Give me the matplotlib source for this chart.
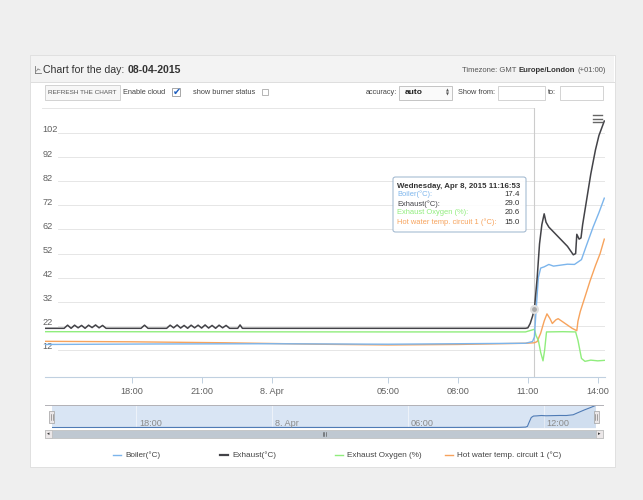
import matplotlib
matplotlib.use('Agg')
import matplotlib.pyplot as plt
from matplotlib.patches import Rectangle, FancyBboxPatch
from matplotlib.lines import Line2D
from matplotlib.transforms import blended_transform_factory

plt.rcParams['font.family'] = ['Liberation Sans', 'DejaVu Sans']

# hours since 8 Apr 2015 00:00
exhaust_t = [-9.72, -8.9, -8.75, -8.6, -8.45, -8.3, -8.15, -8.0, -7.85, -7.7, -7.55, -7.4, -7.25, -7.1,
             -5.6, -5.45, -5.3, -4.5, -4.35, -4.2, -4.05, -3.9, -3.75, -3.6, -3.45, -3.3, -3.15, -3.0,
             -2.85, -2.7, -2.55, -2.4, -2.25, -2.1, -1.95, -1.8, -1.45, -1.35, -1.25, 5.0, 10.9,
             11.0, 11.1, 11.2, 11.28, 11.4, 11.5, 11.6, 11.7, 11.78, 11.9, 12.1, 12.4, 12.7, 12.95,
             13.05, 13.1, 13.2, 13.28, 13.35, 13.5, 13.7, 13.9, 14.05, 14.28]
exhaust_v = [21.0, 21.0, 22.3, 21.0, 22.3, 21.2, 22.2, 21.0, 22.3, 21.3, 22.4, 21.2, 22.2, 21.0,
             21.0, 22.3, 21.0, 21.0, 22.3, 21.2, 22.4, 21.1, 22.2, 21.0, 22.3, 21.2, 22.3, 21.1,
             22.4, 21.1, 22.2, 21.0, 22.3, 21.2, 22.2, 21.0, 21.0, 22.4, 21.0, 21.0, 21.0,
             21.2, 23.0, 26.0, 29.0, 42.0, 56.0, 64.0, 68.5, 65.0, 63.0, 61.0, 58.0, 55.0, 51.5,
             52.0, 60.0, 58.0, 58.5, 64.0, 73.0, 85.0, 95.0, 101.0, 107.0]

boiler_t = [-9.72, -5.0, 0.0, 5.0, 10.9, 11.2, 11.28, 11.35, 11.45, 11.55, 11.7, 11.9, 12.1, 12.4,
            12.7, 13.0, 13.15, 13.3, 13.5, 13.8, 14.05, 14.28]
boiler_v = [14.3, 14.5, 14.6, 14.4, 14.8, 15.5, 17.4, 28.0, 42.0, 46.0, 46.5, 47.5, 46.8, 47.2,
            47.6, 47.5, 48.5, 49.5, 55.0, 63.0, 69.0, 75.0]

oxygen_t = [-9.72, 5.0, 10.9, 11.28, 11.35, 11.45, 11.55, 11.65, 11.72, 11.8, 12.5, 13.05, 13.15,
            13.3, 13.45, 13.7, 14.0, 14.28]
oxygen_v = [19.6, 19.5, 19.5, 20.6, 18.0, 16.0, 11.0, 7.5, 12.0, 19.5, 19.6, 19.5, 16.0,
            8.5, 7.3, 7.8, 7.5, 7.7]

water_t = [-9.72, -6.0, -2.0, 2.0, 5.0, 8.0, 10.9, 11.28, 11.4, 11.55, 11.7, 11.82, 11.95, 12.05,
           12.2, 12.3, 12.6, 12.9, 13.1, 13.15, 13.25, 13.45, 13.67, 13.9, 14.1, 14.28]
water_v = [15.6, 15.4, 15.0, 14.4, 14.1, 14.3, 14.8, 15.0, 15.5, 19.0, 24.0, 27.0, 25.0, 23.0,
           24.5, 25.0, 23.0, 21.0, 20.0, 24.0, 28.0, 34.0, 40.7, 47.0, 52.0, 58.0]

series_names = ['Boiler(°C)', 'Exhaust(°C)', 'Exhaust Oxygen (%)', 'Hot water temp. circuit 1 (°C)']
series_colors = ['#7cb5ec', '#434348', '#90ed7d', '#f7a35c']
hover_values = ['17.4', '29.0', '20.6', '15.0']
hover_time = 11.28

y_ticks = [12, 22, 32, 42, 52, 62, 72, 82, 92, 102]
x_ticks = [-6, -3, 0, 5, 8, 11, 14]
x_labels = ['18:00', '21:00', '8. Apr', '05:00', '08:00', '11:00', '14:00']
nav_ticks = [-6, 0, 6, 12]
nav_labels = ['18:00', '8. Apr', '06:00', '12:00']

W, H = 643, 500
fig = plt.figure(figsize=(W / 100, H / 100), dpi=100)
fig.patch.set_facecolor('#efefef')
renderer = fig.canvas.get_renderer()


def fx(x):
    return x / W


def fy(y):
    return 1 - y / H


def box(x0, y0, x1, y1, fc, ec='none', lw=0.6, z=1):
    fig.add_artist(Rectangle((fx(x0), fy(y1)), (x1 - x0) / W, (y1 - y0) / H,
                             transform=fig.transFigure, facecolor=fc, edgecolor=ec,
                             linewidth=lw, zorder=z))


def line(x0, y0, x1, y1, color, lw=0.7, z=2):
    fig.add_artist(Line2D([fx(x0), fx(x1)], [fy(y0), fy(y1)], transform=fig.transFigure,
                          color=color, linewidth=lw, zorder=z))


def txt(x, y, s, size=5.3, color='#444444', weight='normal', ha='left', z=4, **kw):
    return fig.text(fx(x), fy(y), s, fontsize=size, color=color, fontweight=weight,
                    ha=ha, va='center', zorder=z, **kw)


def runs(x, y, parts, size, align='left', gap=3):
    # parts drawn one after another: (text, weight, color)
    widths = []
    for s, w, c in parts:
        t = fig.text(0, 0, s, fontsize=size, fontweight=w)
        widths.append(t.get_window_extent(renderer).width)
        t.remove()
    total = sum(widths) + gap * (len(parts) - 1)
    x0 = x if align == 'left' else x - total
    for (s, w, c), wd in zip(parts, widths):
        txt(x0, y, s, size, c, w)
        x0 += wd + gap


# panel and header
box(30, 55, 615, 467, '#ffffff', '#dcdcdc', z=0)
box(31, 56, 614, 82, '#f3f3f3', 'none', z=0.5)
line(31, 82, 614, 82, '#dddddd')
line(35, 66, 35, 73, '#777777', 0.6)
line(35, 73, 41, 73, '#777777', 0.6)
line(36.5, 71, 38, 69, '#777777', 0.5)
line(38, 69, 40, 70, '#777777', 0.5)
runs(43, 70, [('Chart for the day:', 'normal', '#333333'),
              ('08-04-2015', 'bold', '#333333')], 7.6)
runs(606, 70, [('Timezone: GMT', 'normal', '#555555'),
               ('Europe/London', 'bold', '#333333'),
               ('(+01:00)', 'normal', '#555555')], 5.5, align='right', gap=2.5)

# controls row
box(45, 85, 120, 100, '#f7f7f7', '#cccccc')
txt(82.5, 92.5, 'REFRESH THE CHART', size=4.6, color='#555555', ha='center')
txt(123, 92.5, 'Enable cloud', size=5.3)
box(172, 88, 180, 96, '#ffffff', '#999999')
txt(176.5, 91.5, '✔', size=7, color='#1f5fbf', ha='center', family='DejaVu Sans')
txt(193, 92.5, 'show burner status', size=5.3)
box(262, 88.5, 268, 95, '#ffffff', '#aaaaaa')
txt(397, 92.5, 'accuracy:', size=5.3, ha='right')
box(399, 85.5, 452, 99.5, '#fafafa', '#bbbbbb')
txt(405, 92.5, 'auto', size=6, color='#222222', weight='bold')
txt(447, 90.5, '▲', size=2.8, color='#555555', ha='center', family='DejaVu Sans')
txt(447, 94.5, '▼', size=2.8, color='#555555', ha='center', family='DejaVu Sans')
txt(458, 92.5, 'Show from:', size=5.3)
box(498, 85.5, 545, 99.5, '#ffffff', '#cccccc')
txt(548, 92.5, 'to:', size=5.3)
box(560, 85.5, 603, 99.5, '#ffffff', '#cccccc')
line(42, 108, 534, 108, '#e6e6e6', 0.7)

# main chart
ax = fig.add_axes([fx(45), fy(377), 560 / W, 269 / H])
ax.set_zorder(3)
ax.patch.set_alpha(0)
ax.set_xlim(-9.72, 14.31)
ax.set_ylim(0.8, 112.4)
for s in ['top', 'left', 'right']:
    ax.spines[s].set_visible(False)
ax.spines['bottom'].set_color('#c0d0e0')
ax.spines['bottom'].set_linewidth(0.8)
ax.set_yticks([])
ax.set_xticks(x_ticks, x_labels)
ax.tick_params(axis='x', length=4, color='#c0d0e0', width=0.7, labelsize=6.6,
               labelcolor='#606060', pad=3)
ytr = blended_transform_factory(ax.transAxes, ax.transData)
for v in y_ticks:
    ax.axhline(v, xmin=13 / 560, color='#e6e6e6', lw=0.7, zorder=0)
    ax.text(-0.004, v + 1.3, str(v), transform=ytr, fontsize=6.6, color='#606060',
            ha='left', va='center')

ax.axvline(hover_time, color='#cccccc', lw=0.8, zorder=1)
ax.plot(water_t, water_v, color=series_colors[3], lw=1.0, zorder=2)
ax.plot(oxygen_t, oxygen_v, color=series_colors[2], lw=1.0, zorder=2)
ax.plot(boiler_t, boiler_v, color=series_colors[0], lw=1.0, zorder=3)
ax.plot(exhaust_t, exhaust_v, color=series_colors[1], lw=1.1, zorder=4)
ax.plot([hover_time], [29.0], 'o', ms=5, mfc='#a9a9a9', mec='#e0e0e0', mew=1.5, zorder=5)

# menu icon
for yy in [115, 118.5, 122]:
    line(593, yy, 602, yy, '#666666', 1.0, z=5)

# tooltip
fig.add_artist(FancyBboxPatch((fx(393), fy(232)), 133 / W, 55 / H,
                              boxstyle='round,pad=0,rounding_size=0.004',
                              transform=fig.transFigure, facecolor=(1, 1, 1, 0.92),
                              edgecolor='#9ab3cc', linewidth=0.7, zorder=6))
txt(397, 186, 'Wednesday, Apr 8, 2015 11:16:53', size=5.7, color='#333333',
    weight='bold', z=7)
for i, (name, col, val) in enumerate(zip(series_names, series_colors, hover_values)):
    yy = 194.5 + i * 9.2
    txt(397, yy, name + ':', size=5.4, color=col, z=7)
    txt(520, yy, val, size=5.7, color='#333333', ha='right', z=7)

# navigator
nav = fig.add_axes([fx(52), fy(428), 544 / W, 23 / H])
nav.set_zorder(3)
nav.set_facecolor('#d9e5f4')
nav.set_xlim(-9.72, 14.31)
nav.set_ylim(13.0, 76.5)
for s in nav.spines.values():
    s.set_visible(False)
nav.set_xticks([])
nav.set_yticks([])
xtr = blended_transform_factory(nav.transData, nav.transAxes)
for t, lab in zip(nav_ticks, nav_labels):
    nav.axvline(t, color='#eef3fa', lw=0.7, zorder=0)
    nav.text(t + 0.12, 0.2, lab, transform=xtr, fontsize=6.6, color='#8a8a8a',
             ha='left', va='center')
nav.fill_between(boiler_t, boiler_v, 13.0, color='#4572a7', alpha=0.06, lw=0)
nav.plot(boiler_t, boiler_v, color='#4f7bb5', lw=0.8)
line(45, 405, 603, 405, '#b2b1b6', 0.7, z=4)
for hx in [52, 596]:
    box(hx - 2.5, 411, hx + 2.5, 423, '#ebe7e8', '#a0a0a0', 0.5, z=5)
    line(hx - 0.8, 414, hx - 0.8, 420, '#666666', 0.4, z=6)
    line(hx + 0.8, 414, hx + 0.8, 420, '#666666', 0.4, z=6)

# scrollbar
box(45, 430, 603, 438, '#bfc8d1', '#bbbbbb', 0.5, z=4)
box(45, 430, 52, 438, '#ebe7e8', '#bbbbbb', 0.5, z=5)
box(596, 430, 603, 438, '#ebe7e8', '#bbbbbb', 0.5, z=5)
txt(48.5, 434, '◂', size=3.5, color='#333333', ha='center', z=6, family='DejaVu Sans')
txt(599.5, 434, '▸', size=3.5, color='#333333', ha='center', z=6, family='DejaVu Sans')
for gx in [322.5, 324, 325.5]:
    line(gx, 432, gx, 436, '#444444', 0.4, z=6)

# legend
legend_x = [113, 220, 335, 445]
for i, (name, col) in enumerate(zip(series_names, series_colors)):
    x0 = legend_x[i]
    line(x0, 455, x0 + 8, 455, col, 1.6 if i == 1 else 1.0, z=4)
    txt(x0 + 12, 455.5, name, size=5.9, color='#444444')

fig.savefig('out.png', dpi=100, facecolor=fig.get_facecolor())
